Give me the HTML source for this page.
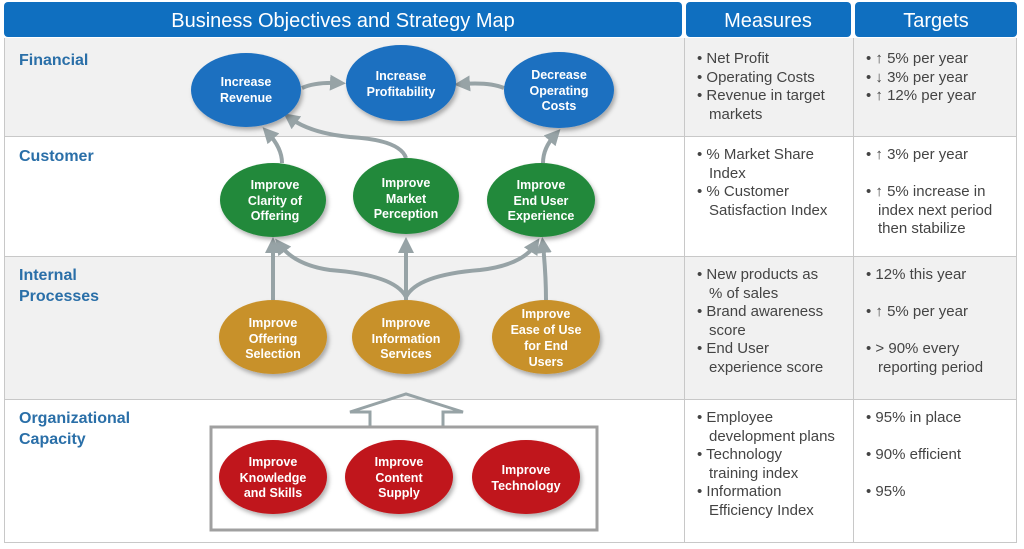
<!DOCTYPE html>
<html><head><meta charset="utf-8"><style>
html,body{margin:0;padding:0;background:#fff;width:1024px;height:549px;overflow:hidden}
svg{display:block}
.h{font-family:"Liberation Sans",sans-serif;font-size:20px;fill:#fff}
.rl{font-family:"Liberation Sans",sans-serif;font-size:16px;font-weight:bold;fill:#2a6fa8}
.t{font-family:"Liberation Sans",sans-serif;font-size:15px;fill:#444}
.n{font-family:"Liberation Sans",sans-serif;font-size:12.5px;font-weight:bold;fill:#fff;text-anchor:middle}
</style></head><body>
<svg width="1024" height="549" viewBox="0 0 1024 549" xmlns="http://www.w3.org/2000/svg">
<defs>
<marker id="a" viewBox="0 0 10 10" refX="5" refY="5" markerWidth="4" markerHeight="4" orient="auto"><path d="M0,0 L10,5 L0,10 z" fill="#97a3a6"/></marker>
<filter id="s" x="-20%" y="-20%" width="150%" height="150%"><feDropShadow dx="2" dy="3" stdDeviation="2" flood-color="#000" flood-opacity="0.3"/></filter>
</defs>
<!-- row backgrounds -->
<rect x="4" y="38" width="1013" height="98" fill="#f1f1f1"/>
<rect x="4" y="256" width="1013" height="143" fill="#f1f1f1"/>
<g stroke="#c8c8c8" stroke-width="1">
<line x1="4" y1="136.5" x2="1017" y2="136.5"/>
<line x1="4" y1="256.5" x2="1017" y2="256.5"/>
<line x1="4" y1="399.5" x2="1017" y2="399.5"/>
<line x1="4" y1="542.5" x2="1017" y2="542.5"/>
<line x1="4.5" y1="38" x2="4.5" y2="542"/>
<line x1="684.5" y1="38" x2="684.5" y2="542"/>
<line x1="853.5" y1="38" x2="853.5" y2="542"/>
<line x1="1016.5" y1="38" x2="1016.5" y2="542"/>
</g>
<!-- headers -->
<rect x="4" y="2" width="678" height="35" rx="4" fill="#0f6fc0"/>
<rect x="686" y="2" width="165" height="35" rx="4" fill="#0f6fc0"/>
<rect x="855" y="2" width="162" height="35" rx="4" fill="#0f6fc0"/>
<text class="h" x="343" y="27" text-anchor="middle">Business Objectives and Strategy Map</text>
<text class="h" x="768" y="27" text-anchor="middle">Measures</text>
<text class="h" x="936" y="27" text-anchor="middle">Targets</text>
<!-- row labels -->
<text class="rl" x="19" y="65">Financial</text>
<text class="rl" x="19" y="161">Customer</text>
<text class="rl" x="19" y="280">Internal</text>
<text class="rl" x="19" y="301">Processes</text>
<text class="rl" x="19" y="423">Organizational</text>
<text class="rl" x="19" y="444">Capacity</text>
<!-- connectors -->
<g fill="none" stroke="#97a3a6" stroke-width="4" marker-end="url(#a)">
<path d="M302,88 Q315,82 338,83"/>
<path d="M504,88 Q490,82 462,84"/>
<path d="M282,163 Q282,148 268,133"/>
<path d="M406,158 Q400,140 350,137 Q310,133 290,118"/>
<path d="M543,163 Q543,148 555,135"/>
<path d="M273,300 L273,245"/>
<path d="M406,300 L406,245"/>
<path d="M406,297 Q395,275 330,270 Q295,265 280,245"/>
<path d="M406,297 Q417,275 480,270 Q522,265 535,245"/>
<path d="M546,300 Q546,275 543,245"/>
</g>
<!-- big up arrow -->
<path d="M370,428 L370,412 L350,412 L406,394 L463,412 L443,412 L443,428" fill="none" stroke="#97a3a6" stroke-width="3"/>
<rect x="211" y="427" width="386" height="103" fill="none" stroke="#a0a0a0" stroke-width="3"/>
<!-- nodes -->
<g filter="url(#s)">
<ellipse cx="246" cy="90" rx="55" ry="37" fill="#1c6fc0"/>
<ellipse cx="401" cy="83" rx="55" ry="38" fill="#1c6fc0"/>
<ellipse cx="559" cy="90" rx="55" ry="38" fill="#1c6fc0"/>
<ellipse cx="273" cy="200" rx="53" ry="37" fill="#22893b"/>
<ellipse cx="406" cy="196" rx="53" ry="38" fill="#22893b"/>
<ellipse cx="541" cy="200" rx="54" ry="37" fill="#22893b"/>
<ellipse cx="273" cy="337" rx="54" ry="37" fill="#c8912a"/>
<ellipse cx="406" cy="337" rx="54" ry="37" fill="#c8912a"/>
<ellipse cx="546" cy="337" rx="54" ry="37" fill="#c8912a"/>
<ellipse cx="273" cy="477" rx="54" ry="37" fill="#c0141a"/>
<ellipse cx="399" cy="477" rx="54" ry="37" fill="#c0141a"/>
<ellipse cx="526" cy="477" rx="54" ry="37" fill="#c0141a"/>
</g>
<text class="n" x="246" y="86">Increase</text><text class="n" x="246" y="102">Revenue</text>
<text class="n" x="401" y="80">Increase</text><text class="n" x="401" y="96">Profitability</text>
<text class="n" x="559" y="79">Decrease</text><text class="n" x="559" y="95">Operating</text><text class="n" x="559" y="110">Costs</text>
<text class="n" x="275" y="189">Improve</text><text class="n" x="275" y="205">Clarity of</text><text class="n" x="275" y="220">Offering</text>
<text class="n" x="406" y="187">Improve</text><text class="n" x="406" y="203">Market</text><text class="n" x="406" y="218">Perception</text>
<text class="n" x="541" y="189">Improve</text><text class="n" x="541" y="205">End User</text><text class="n" x="541" y="220">Experience</text>
<text class="n" x="273" y="327">Improve</text><text class="n" x="273" y="343">Offering</text><text class="n" x="273" y="358">Selection</text>
<text class="n" x="406" y="327">Improve</text><text class="n" x="406" y="343">Information</text><text class="n" x="406" y="358">Services</text>
<text class="n" x="546" y="318">Improve</text><text class="n" x="546" y="334">Ease of Use</text><text class="n" x="546" y="350">for End</text><text class="n" x="546" y="366">Users</text>
<text class="n" x="273" y="466">Improve</text><text class="n" x="273" y="482">Knowledge</text><text class="n" x="273" y="497">and Skills</text>
<text class="n" x="399" y="466">Improve</text><text class="n" x="399" y="482">Content</text><text class="n" x="399" y="497">Supply</text>
<text class="n" x="526" y="474">Improve</text><text class="n" x="526" y="490">Technology</text>
<!-- measures -->
<g class="t">
<text class="t" x="697" y="63">• Net Profit</text>
<text class="t" x="697" y="82">• Operating Costs</text>
<text class="t" x="697" y="100">• Revenue in target</text>
<text class="t" x="709" y="119">markets</text>
<text class="t" x="697" y="159">• % Market Share</text>
<text class="t" x="709" y="178">Index</text>
<text class="t" x="697" y="196">• % Customer</text>
<text class="t" x="709" y="215">Satisfaction Index</text>
<text class="t" x="697" y="279">• New products as</text>
<text class="t" x="709" y="298">% of sales</text>
<text class="t" x="697" y="316">• Brand awareness</text>
<text class="t" x="709" y="335">score</text>
<text class="t" x="697" y="353">• End User</text>
<text class="t" x="709" y="372">experience score</text>
<text class="t" x="697" y="422">• Employee</text>
<text class="t" x="709" y="441">development plans</text>
<text class="t" x="697" y="459">• Technology</text>
<text class="t" x="709" y="478">training index</text>
<text class="t" x="697" y="496">• Information</text>
<text class="t" x="709" y="515">Efficiency Index</text>
<!-- targets -->
<text class="t" x="866" y="63">• ↑ 5% per year</text>
<text class="t" x="866" y="82">• ↓ 3% per year</text>
<text class="t" x="866" y="100">• ↑ 12% per year</text>
<text class="t" x="866" y="159">• ↑ 3% per year</text>
<text class="t" x="866" y="196">• ↑ 5% increase in</text>
<text class="t" x="878" y="215">index next period</text>
<text class="t" x="878" y="233">then stabilize</text>
<text class="t" x="866" y="279">• 12% this year</text>
<text class="t" x="866" y="316">• ↑ 5% per year</text>
<text class="t" x="866" y="353">• &gt; 90% every</text>
<text class="t" x="878" y="372">reporting period</text>
<text class="t" x="866" y="422">• 95% in place</text>
<text class="t" x="866" y="459">• 90% efficient</text>
<text class="t" x="866" y="496">• 95%</text>
</g>
</svg>
</body></html>
